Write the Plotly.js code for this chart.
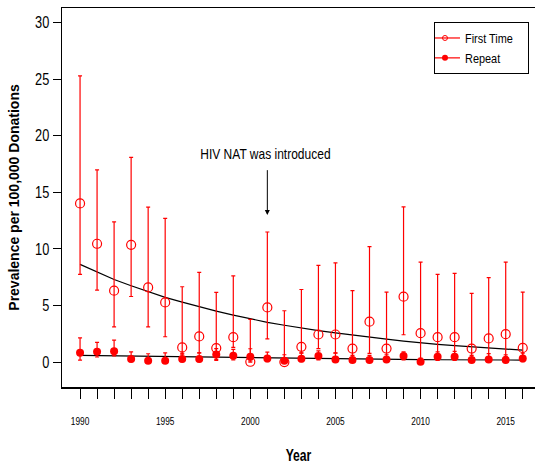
<!DOCTYPE html>
<html><head><meta charset="utf-8">
<script src="https://cdn.plot.ly/plotly-3.0.1.min.js"></script>
<style>html,body{margin:0;padding:0;background:#fff}#chart{width:535px;height:468px}</style>
</head><body><div id="chart"></div>
<script>
const years = [1990,1991,1992,1993,1994,1995,1996,1997,1998,1999,2000,2001,2002,2003,2004,2005,2006,2007,2008,2009,2010,2011,2012,2013,2014,2015,2016];
const firstTime = [14.03,10.46,6.31,10.37,6.6,5.28,1.3,2.27,1.24,2.2,0.03,4.83,0.0,1.35,2.44,2.44,1.2,3.57,1.2,5.78,2.56,2.2,2.2,1.2,2.09,2.47,1.25];
const firstTimeUpper = [25.3,17.0,12.4,18.1,13.7,12.7,6.66,7.93,6.16,7.63,3.77,11.5,4.54,6.42,8.55,8.78,6.31,10.2,6.19,13.73,8.84,7.75,7.84,6.07,7.46,8.84,6.19];
const firstTimeLower = [7.75,6.37,3.12,5.8,3.12,2.24,0.7,0.82,0.15,1.3,0,2.06,0,0.82,1.2,0.82,0.25,0.77,0.25,2.42,0,0.5,0.6,0.1,0.4,0.5,0.2];
const repeat = [0.82,0.91,0.97,0.27,0.12,0.12,0.27,0.27,0.68,0.56,0.47,0.32,0.12,0.3,0.53,0.24,0.18,0.18,0.24,0.53,0.03,0.47,0.47,0.18,0.24,0.18,0.32];
const repeatUpper = [2.15,1.74,1.95,0.91,0.74,0.82,0.8,0.82,1.2,1.12,1.18,0.88,0.65,0.8,1.0,0.8,0.6,0.6,0.65,0.91,0.35,0.91,0.95,0.6,0.75,0.65,0.8];
const repeatLower = [0.18,0.45,0.55,0.05,0,0,0.05,0.05,0.25,0.2,0.1,0.05,0,0.05,0.2,0.02,0,0,0,0.2,0,0.15,0.15,0,0,0,0.05];
const firstTimeTrend = [8.64,7.97,7.3,6.75,6.25,5.72,5.3,4.88,4.5,4.15,3.82,3.52,3.26,3.0,2.78,2.58,2.38,2.2,2.03,1.86,1.7,1.57,1.45,1.34,1.24,1.15,1.06];
const repeatTrend = [0.59,0.57,0.54,0.51,0.48,0.45,0.43,0.41,0.39,0.37,0.35,0.33,0.32,0.3,0.29,0.27,0.26,0.25,0.24,0.23,0.22,0.21,0.2,0.2,0.19,0.19,0.18];
const tickYears = years;
const tickLabels = years.map(y => (y % 5 === 0 ? String(y) : ''));

const RED = 'rgb(255,0,0)';
const SANS = '"Liberation Sans", Arial, sans-serif';

const traces = [
  {x: years, y: firstTimeTrend, mode: 'lines', line: {color: '#000', width: 1.2}, showlegend: false, hoverinfo: 'skip'},
  {x: years, y: repeatTrend, mode: 'lines', line: {color: '#000', width: 1.2}, showlegend: false, hoverinfo: 'skip'},
  {x: years, y: firstTime, mode: 'markers', showlegend: false,
   marker: {symbol: 'circle-open', size: 9, color: RED, line: {width: 1.2, color: RED}},
   error_y: {type: 'data', symmetric: false,
     array: firstTimeUpper.map((u, i) => Math.max(0, u - firstTime[i])),
     arrayminus: firstTimeLower.map((l, i) => Math.max(0, firstTime[i] - l)),
     color: RED, thickness: 1.2, width: 2}},
  {x: years, y: repeat, mode: 'markers', showlegend: false,
   marker: {symbol: 'circle', size: 8, color: RED},
   error_y: {type: 'data', symmetric: false,
     array: repeatUpper.map((u, i) => Math.max(0, u - repeat[i])),
     arrayminus: repeatLower.map((l, i) => Math.max(0, repeat[i] - l)),
     color: RED, thickness: 1.2, width: 2}},
  {x: [null], y: [null], mode: 'lines+markers', name: 'First Time',
   line: {color: RED, width: 1.2}, marker: {symbol: 'circle-open', size: 5, color: RED, line: {width: 1, color: RED}}},
  {x: [null], y: [null], mode: 'lines+markers', name: 'Repeat',
   line: {color: RED, width: 1.2}, marker: {symbol: 'circle', size: 6, color: RED}}
];

const layout = {
  width: 535, height: 468,
  margin: {l: 62, r: 0, t: 8, b: 81},
  paper_bgcolor: '#fff', plot_bgcolor: '#fff',
  font: {family: SANS, color: '#000'},
  xaxis: {
    range: [1988.94, 2016.72], showgrid: false, zeroline: false,
    showline: true, mirror: true, linecolor: '#000', linewidth: 1.5,
    tickmode: 'array', tickvals: tickYears, ticktext: tickLabels,
    ticks: 'outside', ticklen: 10, tickwidth: 1, tickcolor: '#000',
    ticklabelstandoff: 14,
    tickfont: {family: SANS, size: 10, color: '#000'},
    title: {text: 'Year', font: {family: SANS, size: 16, color: '#000', weight: 'bold'}, standoff: 24}
  },
  yaxis: {
    range: [-2.2, 31.3], showgrid: false, zeroline: false,
    showline: true, linecolor: '#000', linewidth: 1.5,
    tickvals: [0,5,10,15,20,25,30],
    ticks: 'outside', ticklen: 8, tickwidth: 1, tickcolor: '#000',
    tickfont: {family: SANS, size: 16, color: '#000'},
    title: {text: 'Prevalence per 100,000 Donations', font: {family: SANS, size: 14, color: '#000', weight: 'bold'}, standoff: 8}
  },
  legend: {
    x: 0.9873, y: 0.963, xanchor: 'right', yanchor: 'top',
    bordercolor: '#000', borderwidth: 1, bgcolor: '#fff',
    font: {family: SANS, size: 13, color: '#000'},
    itemwidth: 30, tracegroupgap: 0, indentation: -10
  },
  annotations: [
    {x: 2000.92, y: 18.4, xref: 'x', yref: 'y', text: 'HIV NAT was introduced', showarrow: false,
     font: {family: SANS, size: 15, color: '#000'}},
    {x: 2001, y: 13.0, xref: 'x', yref: 'y', ax: 2001, ay: 17.1, axref: 'x', ayref: 'y',
     text: '', showarrow: true, arrowhead: 2, arrowsize: 1, arrowwidth: 1, arrowcolor: '#000', standoff: 0}
  ]
};

function condense(sel, factor) {
  document.querySelectorAll(sel).forEach(t => {
    const w = t.getComputedTextLength();
    if (w > 0) {
      t.setAttribute('textLength', (w * factor).toFixed(1));
      t.setAttribute('lengthAdjust', 'spacingAndGlyphs');
    }
  });
}

Plotly.newPlot('chart', traces, layout, {displayModeBar: false, staticPlot: true}).then(() => {
  condense('.xtick text', 0.83);
  condense('.ytick text', 0.8);
  condense('.legendtext', 0.84);
  condense('.annotation-text', 0.8);
  condense('.g-xtitle text', 0.76);
});
</script>
</body></html>
